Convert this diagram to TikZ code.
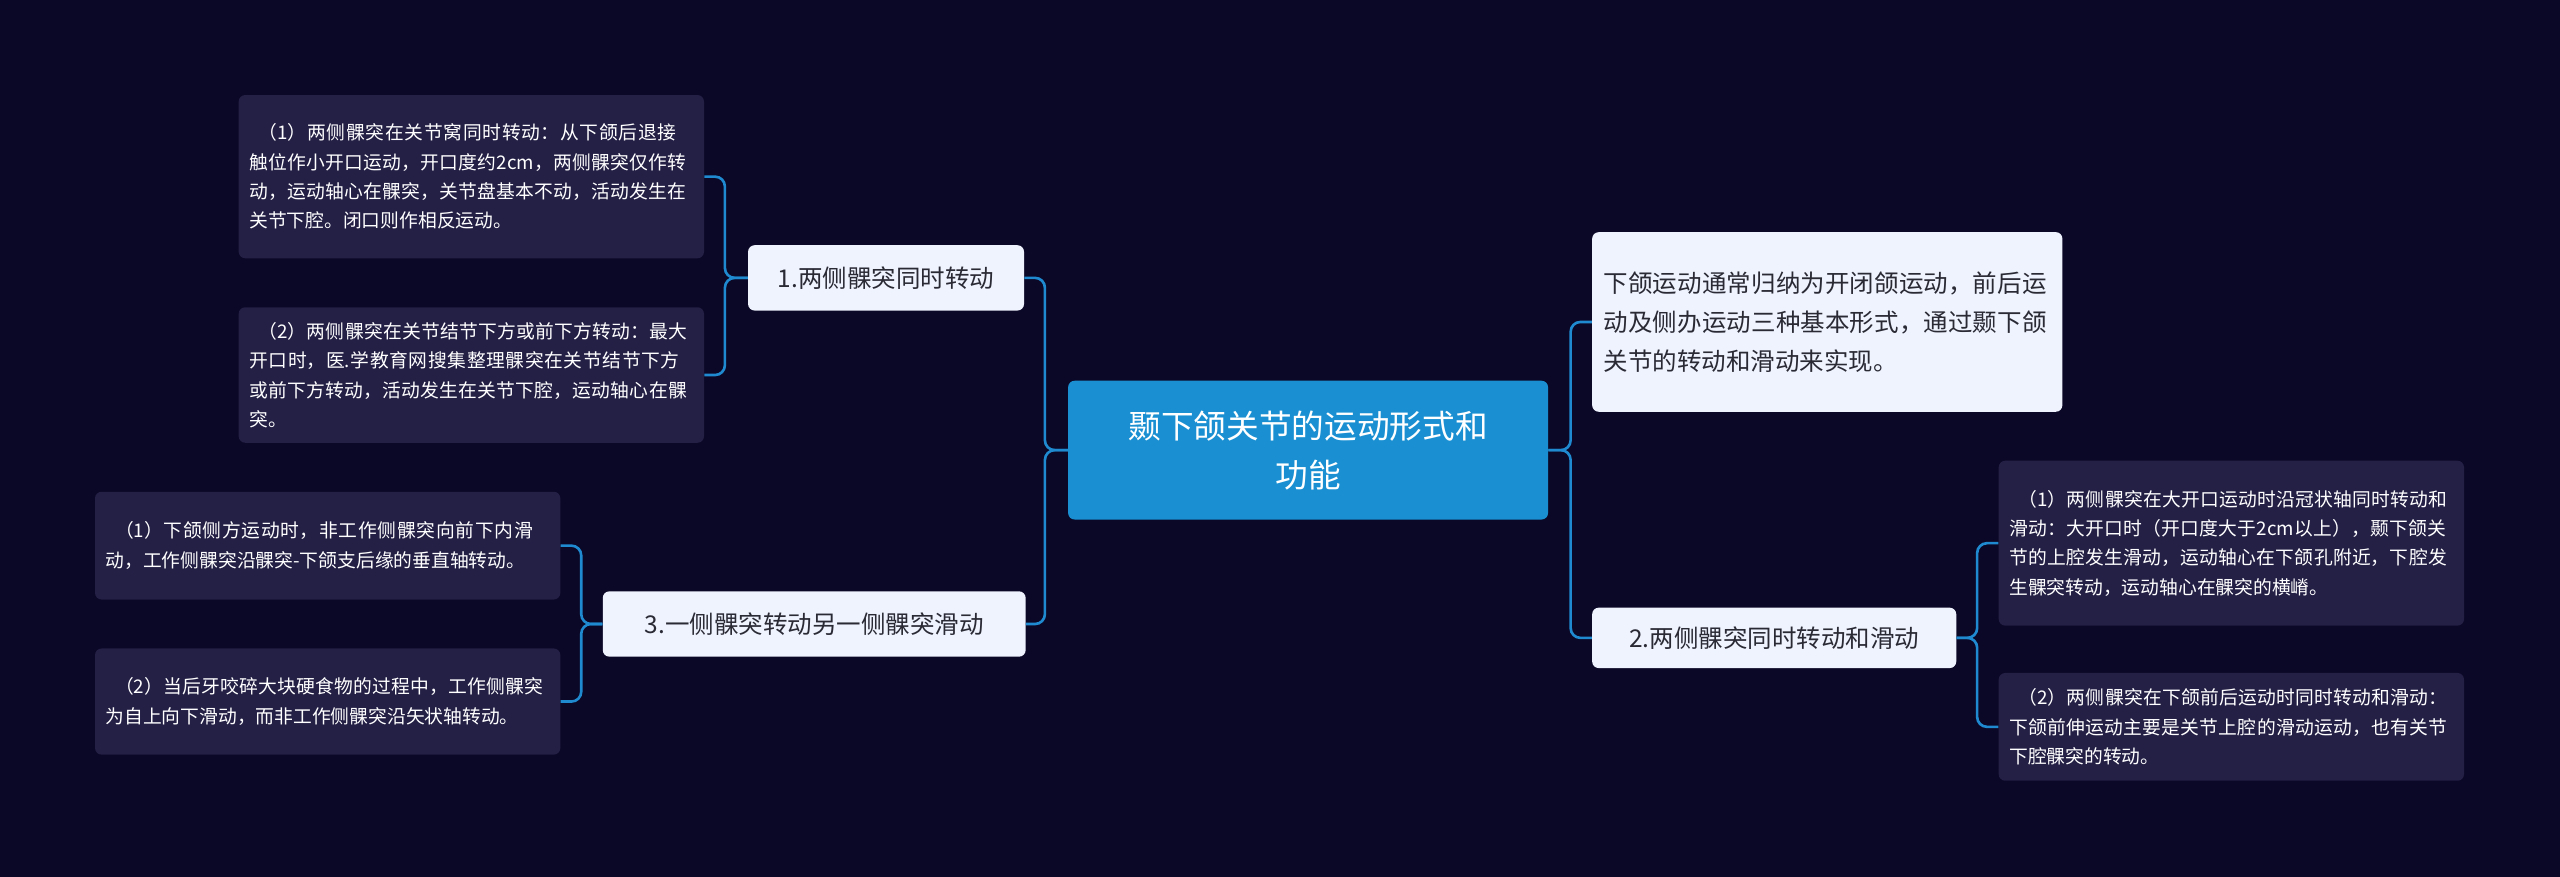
\documentclass[tikz,border=0pt]{standalone}
\usepackage{fontspec}
\setmainfont{Noto Sans CJK SC}
\XeTeXlinebreaklocale "zh"
\XeTeXlinebreakskip=0pt plus 1pt
\begin{document}
\begin{tikzpicture}[x=1pt,y=-1pt,
  leaf/.style={fill=leafc,rounded corners=4pt,text=white,font=\fontsize{11.5}{18}\selectfont,align=left,text width=272pt,inner sep=6.5pt,anchor=north west},
  kid/.style={fill=kidc,rounded corners=4pt,text=txt,font=\fontsize{15}{22}\selectfont,inner sep=7pt,anchor=north west},
  conn/.style={draw=linec,line width=1.6pt,rounded corners=6pt}]
\definecolor{bg}{HTML}{0B0827}
\definecolor{leafc}{HTML}{231F45}
\definecolor{kidc}{HTML}{EEF3FD}
\definecolor{txt}{HTML}{2A2A35}
\definecolor{linec}{HTML}{1F8AD0}
\definecolor{rootc}{HTML}{1A90D2}
\fill[bg] (0,0) rectangle (1568,537);
\useasboundingbox (0,0) rectangle (1568,537);
\node[fill=rootc,rounded corners=4pt,minimum width=294pt,minimum height=85pt,text=white,font=\fontsize{20}{30}\selectfont,align=center,anchor=north west] (root) at (654,233) {颞下颌关节的运动形式和\\功能};
\node[kid,minimum width=169pt,minimum height=40pt] (n1) at (458,150) {1.两侧髁突同时转动};
\node[kid,minimum width=259pt,minimum height=40pt] (n3) at (369,362) {3.一侧髁突转动另一侧髁突滑动};
\node[kid,minimum width=223pt,minimum height=37pt] (n2) at (975,372) {2.两侧髁突同时转动和滑动};
\node[kid,text width=274pt,align=left,minimum height=110pt,font=\fontsize{15}{24}\selectfont] (d) at (975,142) {下颌运动通常归纳为开闭颌运动，前后运动及侧办运动三种基本形式，通过颞下颌关节的转动和滑动来实现。};
\node[leaf,minimum height=100pt] (a1) at (146,58) {\hspace*{0.5em}（1）两侧髁突在关节窝同时转动：从下颌后退接触位作小开口运动，开口度约2cm，两侧髁突仅作转动，运动轴心在髁突，关节盘基本不动，活动发生在关节下腔。闭口则作相反运动。};
\node[leaf,minimum height=83pt] (a2) at (146,188) {\hspace*{0.5em}（2）两侧髁突在关节结节下方或前下方转动：最大开口时，医.学教育网搜集整理髁突在关节结节下方或前下方转动，活动发生在关节下腔，运动轴心在髁突。};
\node[leaf,minimum height=66pt] (c1) at (58,301) {\hspace*{0.5em}（1）下颌侧方运动时，非工作侧髁突向前下内滑动，工作侧髁突沿髁突-下颌支后缘的垂直轴转动。};
\node[leaf,minimum height=65pt] (c2) at (58,397) {\hspace*{0.5em}（2）当后牙咬碎大块硬食物的过程中，工作侧髁突为自上向下滑动，而非工作侧髁突沿矢状轴转动。};
\node[leaf,minimum height=101pt] (b1) at (1224,282) {\hspace*{0.5em}（1）两侧髁突在大开口运动时沿冠状轴同时转动和滑动：大开口时（开口度大于2cm以上），颞下颌关节的上腔发生滑动，运动轴心在下颌孔附近，下腔发生髁突转动，运动轴心在髁突的横嵴。};
\node[leaf,minimum height=66pt] (b2) at (1224,412) {\hspace*{0.5em}（2）两侧髁突在下颌前后运动时同时转动和滑动：下颌前伸运动主要是关节上腔的滑动运动，也有关节下腔髁突的转动。};
\coordinate (lb) at (640,0);
\coordinate (rb) at (962,0);
\draw[conn] (root.west) -| (lb |- n1.east) -- (n1.east);
\draw[conn] (root.west) -| (lb |- n3.east) -- (n3.east);
\draw[conn] (root.east) -| (rb |- d.west) -- (d.west);
\draw[conn] (root.east) -| (rb |- n2.west) -- (n2.west);
\coordinate (b1x) at (444,0);
\draw[conn] (n1.west) -| (b1x |- a1.east) -- (a1.east);
\draw[conn] (n1.west) -| (b1x |- a2.east) -- (a2.east);
\coordinate (b3x) at (356,0);
\draw[conn] (n3.west) -| (b3x |- c1.east) -- (c1.east);
\draw[conn] (n3.west) -| (b3x |- c2.east) -- (c2.east);
\coordinate (b2x) at (1211,0);
\draw[conn] (n2.east) -| (b2x |- b1.west) -- (b1.west);
\draw[conn] (n2.east) -| (b2x |- b2.west) -- (b2.west);
\end{tikzpicture}
\end{document}
